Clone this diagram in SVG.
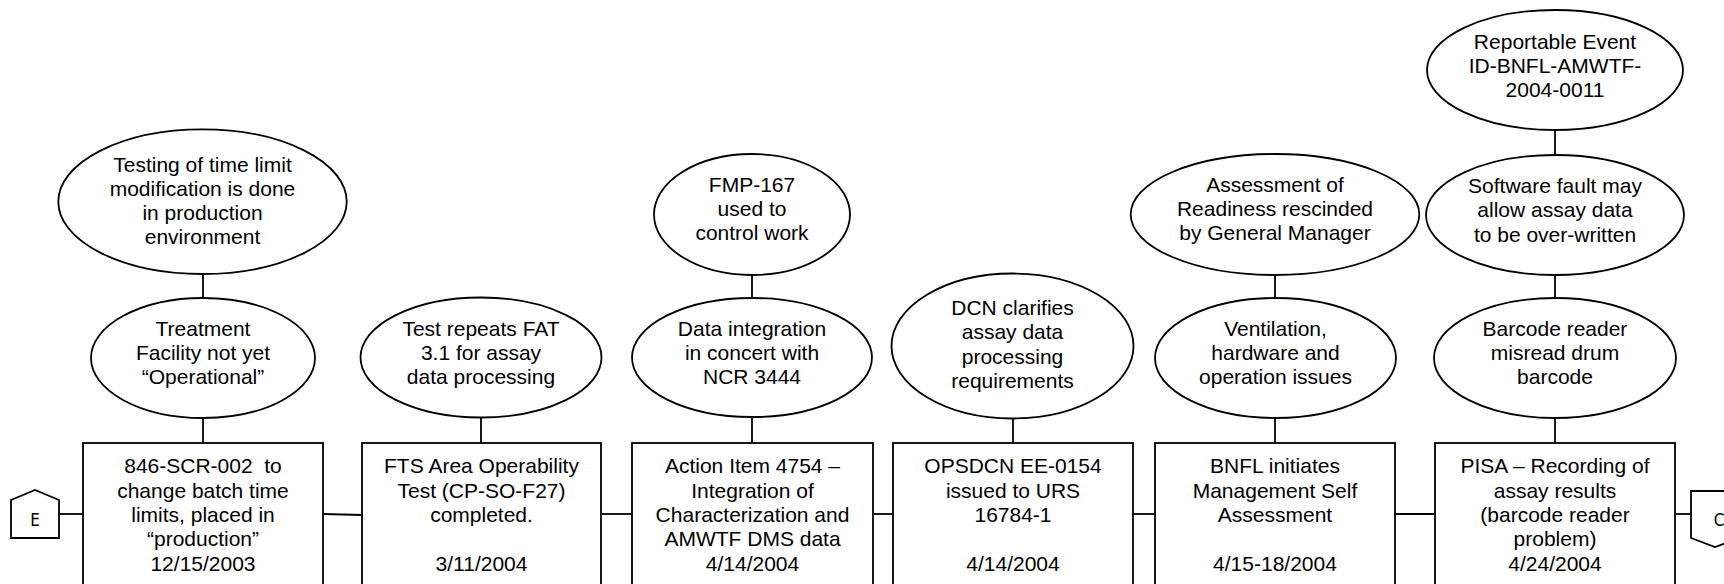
<svg xmlns="http://www.w3.org/2000/svg" width="1724" height="584" viewBox="0 0 1724 584">
<style>
.s{fill:#fff;stroke:#000;stroke-width:1.8}
.c line{stroke:#000;stroke-width:1.8}
text{font-family:"Liberation Sans",Arial,sans-serif;font-size:21px;fill:#000;text-anchor:middle}
.lbl{font-family:"DejaVu Sans Condensed","Liberation Sans",sans-serif;font-size:17px}
</style>
<rect width="1724" height="584" fill="#fff"/>
<g class="c" id="connectors">
<line x1="203" y1="274" x2="203" y2="298"/>
<line x1="203" y1="418" x2="203" y2="443"/>
<line x1="481" y1="417" x2="481" y2="443"/>
<line x1="752" y1="275" x2="752" y2="298"/>
<line x1="752" y1="417" x2="752" y2="443"/>
<line x1="1013" y1="418" x2="1013" y2="443"/>
<line x1="1275" y1="275" x2="1275" y2="298"/>
<line x1="1275" y1="418" x2="1275" y2="443"/>
<line x1="1555" y1="130" x2="1555" y2="155"/>
<line x1="1555" y1="275" x2="1555" y2="298"/>
<line x1="1555" y1="418" x2="1555" y2="443"/>
<line x1="59" y1="514" x2="83" y2="514"/>
<line x1="323" y1="514" x2="362" y2="515"/>
<line x1="601" y1="514" x2="632" y2="514"/>
<line x1="873" y1="514" x2="893" y2="514"/>
<line x1="1133" y1="514" x2="1155" y2="514"/>
<line x1="1395" y1="514" x2="1435" y2="514"/>
<line x1="1675" y1="514" x2="1691" y2="514"/>
</g>
<g id="connE">
<polygon class="s" points="11,500 35,490 59,500 59,538 11,538"/>
<text class="lbl" x="35" y="526">E</text>
</g>
<g id="connC">
<polygon class="s" points="1691,491 1740,491 1740,538 1715,547 1691,538"/>
<text class="lbl" x="1719" y="526">C</text>
</g>
<g id="e-testing">
<ellipse class="s" cx="202.5" cy="201.7" rx="144.2" ry="72.3"/>
<text x="202.5" y="171.5">Testing of time limit</text>
<text x="202.5" y="195.8">modification is done</text>
<text x="202.5" y="220.1">in production</text>
<text x="202.5" y="244.4">environment</text>
</g>
<g id="e-treatment">
<ellipse class="s" cx="203" cy="358" rx="112" ry="60"/>
<text x="203" y="335.5">Treatment</text>
<text x="203" y="359.8">Facility not yet</text>
<text x="203" y="384.1">“Operational”</text>
</g>
<g id="e-testrepeats">
<ellipse class="s" cx="481" cy="357.5" rx="120.5" ry="60"/>
<text x="481" y="335.5">Test repeats FAT</text>
<text x="481" y="359.8">3.1 for assay</text>
<text x="481" y="384.1">data processing</text>
</g>
<g id="e-fmp">
<ellipse class="s" cx="752" cy="214.5" rx="98" ry="60.5"/>
<text x="752" y="191.7">FMP-167</text>
<text x="752" y="216">used to</text>
<text x="752" y="240.3">control work</text>
</g>
<g id="e-dataint">
<ellipse class="s" cx="752" cy="357.5" rx="120" ry="59.5"/>
<text x="752" y="335.5">Data integration</text>
<text x="752" y="359.8">in concert with</text>
<text x="752" y="384.1">NCR 3444</text>
</g>
<g id="e-dcn">
<ellipse class="s" cx="1012.5" cy="346" rx="121" ry="72.5"/>
<text x="1012.5" y="315">DCN clarifies</text>
<text x="1012.5" y="339.3">assay data</text>
<text x="1012.5" y="363.6">processing</text>
<text x="1012.5" y="387.9">requirements</text>
</g>
<g id="e-assessment">
<ellipse class="s" cx="1275" cy="214.5" rx="144.3" ry="60.5"/>
<text x="1275" y="191.7">Assessment of</text>
<text x="1275" y="216">Readiness rescinded</text>
<text x="1275" y="240.3">by General Manager</text>
</g>
<g id="e-ventilation">
<ellipse class="s" cx="1275.5" cy="358" rx="120.5" ry="60"/>
<text x="1275.5" y="335.5">Ventilation,</text>
<text x="1275.5" y="359.8">hardware and</text>
<text x="1275.5" y="384.1">operation issues</text>
</g>
<g id="e-reportable">
<ellipse class="s" cx="1555" cy="70" rx="128" ry="60"/>
<text x="1555" y="48.5">Reportable Event</text>
<text x="1555" y="72.8">ID-BNFL-AMWTF-</text>
<text x="1555" y="97.1">2004-0011</text>
</g>
<g id="e-software">
<ellipse class="s" cx="1555" cy="215" rx="129" ry="60"/>
<text x="1555" y="193">Software fault may</text>
<text x="1555" y="217.3">allow assay data</text>
<text x="1555" y="241.6">to be over-written</text>
</g>
<g id="e-barcode">
<ellipse class="s" cx="1555" cy="358" rx="121" ry="60"/>
<text x="1555" y="335.5">Barcode reader</text>
<text x="1555" y="359.8">misread drum</text>
<text x="1555" y="384.1">barcode</text>
</g>
<g id="b1">
<rect class="s" x="83" y="443" width="240" height="160"/>
<text x="203" y="473.3" xml:space="preserve">846-SCR-002  to</text>
<text x="203" y="497.6">change batch time</text>
<text x="203" y="521.9">limits, placed in</text>
<text x="203" y="546.2">“production”</text>
<text x="203" y="570.5">12/15/2003</text>
</g>
<g id="b2">
<rect class="s" x="362" y="443" width="239" height="160"/>
<text x="481.5" y="473.3">FTS Area Operability</text>
<text x="481.5" y="497.6">Test (CP-SO-F27)</text>
<text x="481.5" y="521.9">completed.</text>
<text x="481.5" y="570.5">3/11/2004</text>
</g>
<g id="b3">
<rect class="s" x="632" y="443" width="241" height="160"/>
<text x="752.5" y="473.3">Action Item 4754 –</text>
<text x="752.5" y="497.6">Integration of</text>
<text x="752.5" y="521.9">Characterization and</text>
<text x="752.5" y="546.2">AMWTF DMS data</text>
<text x="752.5" y="570.5">4/14/2004</text>
</g>
<g id="b4">
<rect class="s" x="893" y="443" width="240" height="160"/>
<text x="1013" y="473.3">OPSDCN EE-0154</text>
<text x="1013" y="497.6">issued to URS</text>
<text x="1013" y="521.9">16784-1</text>
<text x="1013" y="570.5">4/14/2004</text>
</g>
<g id="b5">
<rect class="s" x="1155" y="443" width="240" height="160"/>
<text x="1275" y="473.3">BNFL initiates</text>
<text x="1275" y="497.6">Management Self</text>
<text x="1275" y="521.9">Assessment</text>
<text x="1275" y="570.5">4/15-18/2004</text>
</g>
<g id="b6">
<rect class="s" x="1435" y="443" width="240" height="160"/>
<text x="1555" y="473.3">PISA – Recording of</text>
<text x="1555" y="497.6">assay results</text>
<text x="1555" y="521.9">(barcode reader</text>
<text x="1555" y="546.2">problem)</text>
<text x="1555" y="570.5">4/24/2004</text>
</g>
</svg>
